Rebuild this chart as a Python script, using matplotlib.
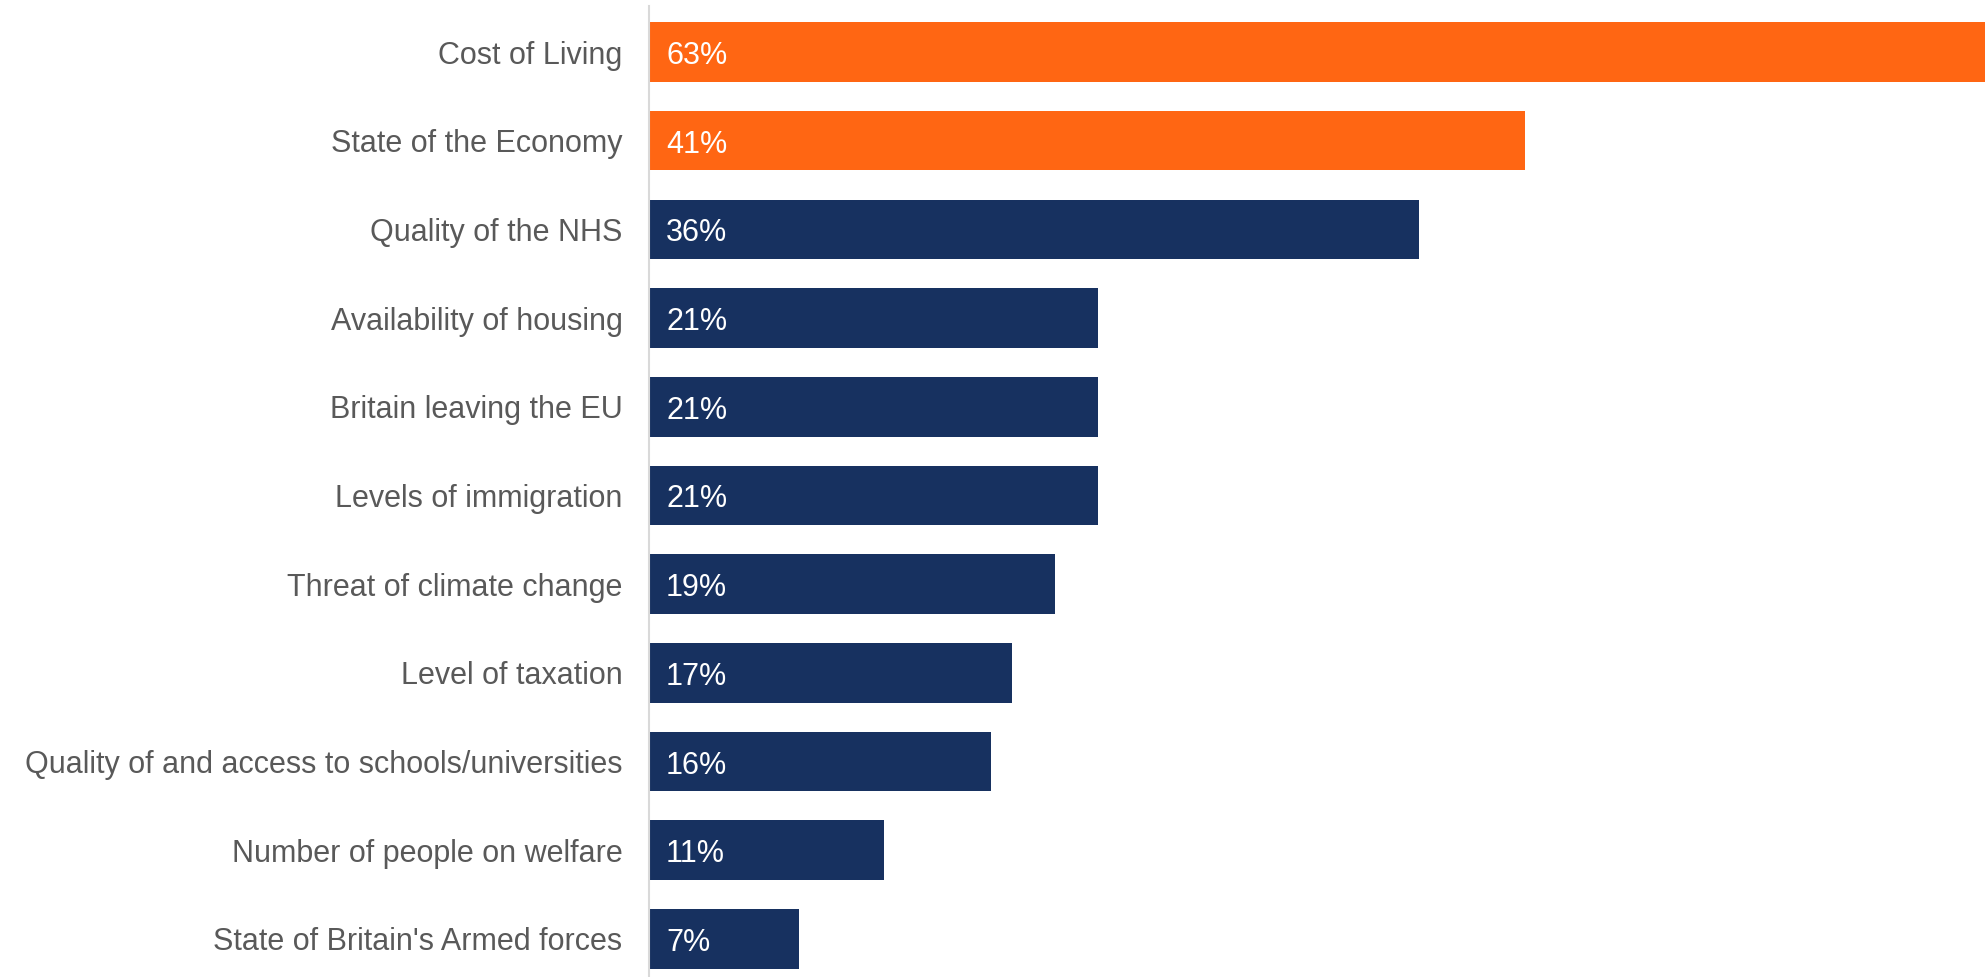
import matplotlib
matplotlib.use("Agg")
import matplotlib.pyplot as plt

categories = ["Cost of Living", "State of the Economy", "Quality of the NHS",
              "Availability of housing", "Britain leaving the EU", "Levels of immigration",
              "Threat of climate change", "Level of taxation",
              "Quality of and access to schools/universities",
              "Number of people on welfare", "State of Britain's Armed forces"]
values = [63, 41, 36, 21, 21, 21, 19, 17, 16, 11, 7]
highlight = [True, True, False, False, False, False, False, False, False, False, False]

ORANGE = "#FF6613"
NAVY = "#173160"

plt.rcParams['font.family'] = ['Liberation Sans', 'DejaVu Sans']

fig = plt.figure(figsize=(19.85, 9.77), dpi=100)
ax = fig.add_axes([649/1985, 0.0, 1 - 649/1985, 1 - 6/977])

ypos = list(range(len(categories)))
colors = [ORANGE if h else NAVY for h in highlight]
ax.barh(ypos, values, height=0.67, color=colors, zorder=2)

for y, v in zip(ypos, values):
    ax.annotate(f"{v}%", xy=(0, y), xytext=(17, -4), textcoords="offset pixels",
                ha="left", va="center", color="white", fontsize=22)

ax.set_xlim(0, 62.5)
ax.set_ylim(10.43, -0.52)
ax.set_yticks(ypos)
ax.set_yticklabels(categories, fontsize=22, color="#595959")
ax.tick_params(axis="y", length=0, pad=19)
ax.set_xticks([])
for s in ["top", "right", "bottom"]:
    ax.spines[s].set_visible(False)
ax.spines["left"].set_color("#D9D9D9")
ax.spines["left"].set_linewidth(1.5)
ax.spines["left"].set_zorder(3)

fig.savefig("out.png", dpi=100)
